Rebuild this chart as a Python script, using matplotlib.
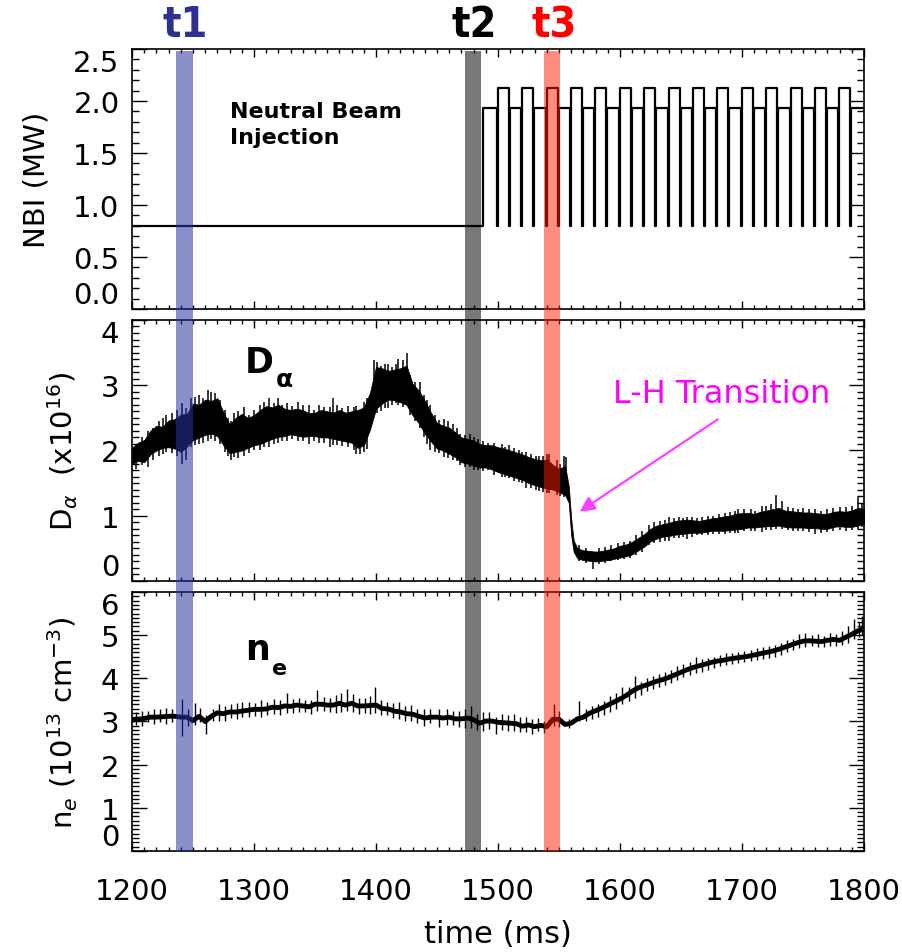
import matplotlib
matplotlib.use('Agg')
import matplotlib.pyplot as plt
import numpy as np
from matplotlib.patches import Rectangle
from matplotlib.transforms import blended_transform_factory

# ---- data ----
# NBI: flat 0.8 MW, then step on and modulated pulses
nbi_base = 0.80
nbi_mid = 1.93
nbi_high = 2.13
nbi_on = 1488
pulse_starts = [1499, 1519, 1539, 1559, 1579, 1599, 1619, 1639,
                1659, 1679, 1699, 1719, 1739, 1759, 1779]
pulse_width = 9.8
dip_width = 0.8

# D-alpha envelope (x1e16)
da_t = [1200, 1205, 1210, 1215, 1220, 1225, 1230, 1235, 1240, 1245,
        1250, 1255, 1260, 1265, 1270, 1275, 1280, 1285, 1290, 1295,
        1300, 1305, 1310, 1315, 1320, 1325, 1330, 1335, 1340, 1345,
        1350, 1355, 1360, 1365, 1370, 1375, 1380, 1385, 1390, 1395,
        1400, 1405, 1410, 1415, 1420, 1425, 1430, 1435, 1440, 1445,
        1450, 1455, 1460, 1465, 1470, 1475, 1480, 1485, 1490, 1495,
        1500, 1505, 1510, 1515, 1520, 1525, 1530, 1535, 1540, 1545,
        1550, 1555, 1558, 1560, 1562, 1565, 1570, 1575, 1580, 1585,
        1590, 1595, 1600, 1605, 1610, 1615, 1620, 1625, 1630, 1635,
        1640, 1645, 1650, 1655, 1660, 1665, 1670, 1675, 1680, 1685,
        1690, 1695, 1700, 1705, 1710, 1715, 1720, 1725, 1730, 1735,
        1740, 1745, 1750, 1755, 1760, 1765, 1770, 1775, 1780, 1785,
        1790, 1795, 1800]
da_hi = [2.04, 2.12, 2.16, 2.30, 2.38, 2.36, 2.46, 2.48, 2.55, 2.56,
         2.72, 2.70, 2.78, 2.76, 2.80, 2.58, 2.40, 2.50, 2.56, 2.50,
         2.54, 2.62, 2.68, 2.66, 2.70, 2.64, 2.62, 2.64, 2.62, 2.57,
         2.58, 2.62, 2.60, 2.58, 2.62, 2.58, 2.60, 2.62, 2.66, 2.88,
         3.28, 3.26, 3.22, 3.24, 3.26, 3.30, 3.02, 2.92, 2.76, 2.58,
         2.42, 2.38, 2.35, 2.28, 2.20, 2.18, 2.15, 2.10, 2.08, 2.08,
         2.05, 2.03, 2.00, 1.97, 1.94, 1.90, 1.87, 1.85, 1.86, 1.78,
         1.72, 1.76, 1.45, 0.95, 0.62, 0.50, 0.47, 0.46, 0.45, 0.46,
         0.48, 0.50, 0.54, 0.56, 0.60, 0.66, 0.72, 0.80, 0.85, 0.87,
         0.89, 0.92, 0.93, 0.94, 0.93, 0.92, 0.94, 0.96, 0.97, 0.99,
         1.00, 1.03, 1.04, 1.04, 1.03, 1.06, 1.08, 1.10, 1.12, 1.08,
         1.07, 1.06, 1.05, 1.05, 1.04, 1.03, 1.03, 1.06, 1.07, 1.06,
         1.08, 1.12, 1.10]
da_lo = [1.80, 1.84, 1.82, 1.94, 2.00, 2.04, 2.05, 2.03, 1.98, 2.06,
         2.16, 2.20, 2.24, 2.26, 2.22, 2.08, 1.96, 1.98, 2.00, 2.04,
         2.08, 2.10, 2.14, 2.18, 2.21, 2.22, 2.25, 2.23, 2.21, 2.22,
         2.22, 2.20, 2.20, 2.18, 2.16, 2.14, 2.12, 2.04, 2.08, 2.32,
         2.64, 2.72, 2.78, 2.77, 2.74, 2.70, 2.54, 2.42, 2.26, 2.14,
         2.03, 2.00, 1.95, 1.90, 1.82, 1.80, 1.77, 1.74, 1.74, 1.71,
         1.67, 1.64, 1.61, 1.58, 1.55, 1.50, 1.47, 1.44, 1.42, 1.40,
         1.36, 1.32, 1.20, 0.70, 0.45, 0.35, 0.32, 0.31, 0.30, 0.31,
         0.32, 0.34, 0.36, 0.38, 0.41, 0.47, 0.53, 0.61, 0.65, 0.68,
         0.69, 0.71, 0.72, 0.73, 0.74, 0.74, 0.75, 0.77, 0.77, 0.77,
         0.78, 0.79, 0.80, 0.82, 0.82, 0.83, 0.84, 0.84, 0.85, 0.83,
         0.82, 0.82, 0.82, 0.81, 0.81, 0.80, 0.80, 0.83, 0.84, 0.83,
         0.83, 0.85, 0.88]
# hair-like excursions of the D-alpha trace: time, bottom, top
da_spike_t = [1203, 1208, 1213, 1217, 1222, 1225, 1228, 1233, 1237, 1241,
              1244, 1248, 1252, 1255, 1258, 1262, 1265, 1268, 1272, 1276,
              1279, 1281, 1284, 1287, 1292, 1296, 1300, 1305, 1308, 1312,
              1316, 1320, 1323, 1327, 1331, 1336, 1340, 1345, 1349, 1353,
              1357, 1362, 1365, 1368, 1372, 1377, 1382, 1384, 1387, 1390,
              1393, 1398, 1401, 1404, 1407, 1410, 1413, 1416, 1418, 1422,
              1425, 1428, 1432, 1436, 1439, 1442, 1444, 1448, 1452, 1456,
              1459, 1463, 1466, 1469, 1473, 1477, 1480, 1484, 1488, 1492,
              1497, 1503, 1506, 1509, 1513, 1517, 1520, 1523, 1527, 1531,
              1534, 1537, 1540, 1542, 1548, 1551, 1554, 1556, 1566, 1572,
              1578, 1583, 1588, 1593, 1598, 1603, 1608, 1613, 1618, 1624,
              1628, 1633, 1637, 1640, 1644, 1648, 1652, 1655, 1659, 1663,
              1667, 1672, 1676, 1681, 1686, 1690, 1694, 1697, 1702, 1707,
              1711, 1716, 1720, 1724, 1728, 1733, 1738, 1742, 1746, 1750,
              1755, 1760, 1765, 1770, 1775, 1780, 1785, 1790, 1795, 1798]
da_spike_lo = [1.72, 1.78, 1.75, 1.85, 1.92, 1.95, 1.98, 1.96, 1.92, 1.80,
               1.85, 2.05, 2.08, 2.10, 2.12, 2.15, 2.18, 2.15, 2.10, 1.98,
               1.92, 1.85, 1.90, 1.88, 1.92, 1.96, 2.00, 2.00, 2.05, 2.05,
               2.10, 2.12, 2.15, 2.15, 2.18, 2.15, 2.14, 2.10, 2.15, 2.12,
               2.12, 2.05, 2.08, 2.08, 2.07, 2.05, 2.00, 1.95, 1.95, 1.98,
               2.02, 2.55, 2.58, 2.60, 2.65, 2.65, 2.70, 2.72, 2.70, 2.66,
               2.70, 2.55, 2.45, 2.35, 2.20, 2.10, 2.00, 1.98, 1.96, 1.90,
               1.88, 1.85, 1.84, 1.78, 1.75, 1.74, 1.70, 1.70, 1.68, 1.70,
               1.62, 1.60, 1.60, 1.58, 1.54, 1.52, 1.50, 1.42, 1.42, 1.40,
               1.38, 1.36, 1.35, 1.35, 1.32, 1.30, 1.28, 1.30, 0.30, 0.28,
               0.19, 0.26, 0.28, 0.30, 0.32, 0.33, 0.35, 0.40, 0.45, 0.55,
               0.58, 0.60, 0.62, 0.62, 0.66, 0.66, 0.68, 0.65, 0.68, 0.70,
               0.70, 0.70, 0.72, 0.72, 0.72, 0.74, 0.74, 0.74, 0.76, 0.77,
               0.76, 0.75, 0.78, 0.78, 0.80, 0.80, 0.78, 0.76, 0.76, 0.76,
               0.75, 0.72, 0.74, 0.75, 0.77, 0.78, 0.76, 0.78, 0.80, 0.82]
da_spike_hi = [2.10, 2.20, 2.30, 2.35, 2.45, 2.50, 2.55, 2.58, 2.62, 2.72,
               2.65, 2.80, 2.82, 2.85, 2.80, 2.92, 2.90, 2.88, 2.78, 2.62,
               2.50, 2.45, 2.58, 2.60, 2.66, 2.55, 2.62, 2.70, 2.75, 2.80,
               2.72, 2.80, 2.70, 2.72, 2.68, 2.74, 2.70, 2.70, 2.62, 2.70,
               2.66, 2.66, 2.80, 2.70, 2.65, 2.68, 2.66, 2.68, 2.55, 2.75,
               2.80, 3.38, 3.36, 3.30, 3.33, 3.32, 3.28, 3.32, 3.40, 3.38,
               3.49, 3.15, 3.05, 3.05, 2.85, 2.78, 2.70, 2.55, 2.46, 2.48,
               2.45, 2.40, 2.35, 2.25, 2.24, 2.25, 2.20, 2.18, 2.14, 2.12,
               2.12, 2.10, 2.06, 2.08, 2.04, 2.00, 1.98, 1.98, 1.94, 1.92,
               1.92, 1.92, 1.95, 1.94, 1.85, 1.80, 1.92, 1.90, 0.55, 0.50,
               0.45, 0.50, 0.52, 0.55, 0.58, 0.60, 0.62, 0.70, 0.76, 0.86,
               0.90, 0.92, 0.94, 0.98, 0.96, 0.98, 0.96, 0.98, 0.98, 0.96,
               0.98, 1.00, 1.00, 1.02, 1.04, 1.05, 1.08, 1.10, 1.10, 1.10,
               1.08, 1.15, 1.15, 1.18, 1.32, 1.22, 1.14, 1.12, 1.10, 1.12,
               1.10, 1.10, 1.08, 1.10, 1.12, 1.14, 1.14, 1.15, 1.28, 1.20]

# electron density (1e13 cm^-3), trace centre every 5 ms
ne_t = list(range(1200, 1805, 5))
ne_mid = [3.03, 3.05, 3.07, 3.10, 3.10, 3.11, 3.12, 3.12, 3.10, 3.10,
          3.02, 3.12, 3.00, 3.12, 3.20, 3.18, 3.22, 3.22, 3.24, 3.26,
          3.28, 3.28, 3.29, 3.33, 3.32, 3.36, 3.35, 3.38, 3.36, 3.34,
          3.40, 3.40, 3.38, 3.38, 3.42, 3.38, 3.42, 3.36, 3.36, 3.37,
          3.38, 3.30, 3.29, 3.24, 3.22, 3.18, 3.17, 3.12, 3.08, 3.10,
          3.10, 3.08, 3.10, 3.06, 3.06, 3.08, 3.04, 2.96, 3.01, 3.01,
          2.98, 2.97, 2.96, 2.95, 2.89, 2.92, 2.88, 2.91, 2.88, 3.05,
          3.05, 2.93, 2.96, 3.06, 3.10, 3.19, 3.25, 3.31, 3.38, 3.45,
          3.52, 3.60, 3.70, 3.78, 3.83, 3.88, 3.93, 3.97, 4.02, 4.08,
          4.14, 4.20, 4.25, 4.29, 4.33, 4.37, 4.40, 4.42, 4.45, 4.47,
          4.49, 4.51, 4.54, 4.57, 4.60, 4.63, 4.67, 4.72, 4.77, 4.82,
          4.86, 4.87, 4.86, 4.85, 4.88, 4.90, 4.88, 4.95, 5.02, 5.10,
          5.15]
ne_spike_t = [1203, 1208, 1213, 1218, 1223, 1228, 1233, 1241, 1246, 1252,
              1256, 1261, 1266, 1271, 1276, 1281, 1286, 1290, 1296, 1301,
              1306, 1311, 1316, 1321, 1327, 1332, 1337, 1342, 1347, 1352,
              1357, 1362, 1367, 1371, 1376, 1381, 1386, 1391, 1395, 1399,
              1404, 1409, 1414, 1419, 1424, 1429, 1434, 1439, 1444, 1452,
              1458, 1463, 1468, 1473, 1478, 1483, 1488, 1493, 1498, 1503,
              1508, 1513, 1518, 1523, 1528, 1533, 1538, 1546, 1550, 1558,
              1566, 1572, 1577, 1582, 1587, 1592, 1597, 1602, 1607, 1612,
              1617, 1622, 1627, 1632, 1637, 1642, 1647, 1652, 1657, 1662,
              1667, 1672, 1677, 1682, 1687, 1692, 1697, 1702, 1707, 1712,
              1717, 1722, 1727, 1732, 1737, 1742, 1747, 1752, 1757, 1762,
              1767, 1772, 1777, 1782, 1787, 1792, 1796, 1798]
ne_spike_lo = [2.92, 2.90, 2.98, 2.95, 2.98, 2.95, 2.98, 2.67, 2.90, 2.92,
               2.98, 2.70, 3.00, 3.02, 3.02, 3.08, 3.05, 3.10, 3.10, 3.12,
               3.10, 3.15, 3.18, 3.15, 3.20, 3.20, 3.22, 3.22, 3.18, 3.25,
               3.24, 3.22, 3.20, 3.22, 3.25, 3.22, 3.18, 3.20, 3.18, 3.20,
               3.14, 3.14, 3.08, 3.05, 3.02, 3.00, 2.96, 2.90, 2.96, 2.88,
               2.92, 2.92, 2.88, 2.86, 2.85, 2.80, 2.78, 2.82, 2.72, 2.80,
               2.78, 2.78, 2.75, 2.76, 2.72, 2.78, 2.74, 2.90, 2.88, 2.84,
               3.00, 3.00, 3.05, 3.10, 3.15, 3.22, 3.30, 3.40, 3.48, 3.55,
               3.62, 3.70, 3.75, 3.80, 3.85, 3.90, 3.95, 4.02, 4.08, 4.12,
               4.15, 4.20, 4.25, 4.28, 4.30, 4.32, 4.35, 4.38, 4.40, 4.42,
               4.45, 4.48, 4.50, 4.55, 4.60, 4.65, 4.70, 4.72, 4.75, 4.72,
               4.72, 4.75, 4.75, 4.78, 4.82, 4.90, 4.95, 5.00]
ne_spike_hi = [3.22, 3.25, 3.25, 3.30, 3.28, 3.32, 3.30, 3.52, 3.28, 3.42,
               3.32, 3.15, 3.30, 3.40, 3.35, 3.40, 3.42, 3.45, 3.45, 3.42,
               3.50, 3.45, 3.52, 3.50, 3.67, 3.52, 3.55, 3.50, 3.50, 3.72,
               3.56, 3.55, 3.62, 3.66, 3.75, 3.64, 3.55, 3.55, 3.60, 3.79,
               3.50, 3.45, 3.42, 3.45, 3.35, 3.38, 3.30, 3.30, 3.28, 3.30,
               3.30, 3.25, 3.25, 3.28, 3.35, 3.18, 3.22, 3.22, 3.10, 3.18,
               3.15, 3.18, 3.10, 3.10, 3.05, 3.08, 3.02, 3.40, 3.25, 3.05,
               3.48, 3.30, 3.35, 3.40, 3.48, 3.58, 3.65, 3.80, 3.80, 4.05,
               3.92, 4.00, 4.05, 4.10, 4.15, 4.20, 4.28, 4.32, 4.38, 4.50,
               4.45, 4.48, 4.50, 4.55, 4.58, 4.58, 4.62, 4.64, 4.66, 4.70,
               4.72, 4.75, 4.78, 4.82, 4.88, 4.92, 5.02, 5.05, 5.00, 5.02,
               4.98, 5.05, 5.02, 5.10, 5.20, 5.37, 5.30, 5.45]

# time slices
slice_names = ['t1', 't2', 't3']
slice_start = [1236.0, 1472.6, 1538.1]
slice_end = [1249.7, 1485.7, 1551.2]
slice_colors = ['#2b33a0', '#000000', '#ff1a00']
slice_alpha = [0.55, 0.53, 0.5]
slice_text_colors = ['#2e3192', '#000000', '#ff0000']

plt.rcParams['font.family'] = ['DejaVu Sans']
plt.rcParams['mathtext.fontset'] = 'dejavusans'

fig = plt.figure(figsize=(9.03, 9.53), dpi=100)
left, width = 0.1462, 0.8106
ax1 = fig.add_axes([left, 0.6747, width, 0.2728])
ax2 = fig.add_axes([left, 0.3893, width, 0.2739])
ax3 = fig.add_axes([left, 0.1060, width, 0.2718])
axes = [ax1, ax2, ax3]

# NBI trace
nbi_t = [1200, nbi_on]
nbi_v = [nbi_base, nbi_mid]
for s in pulse_starts:
    nbi_t += [s, s + dip_width, s + pulse_width, s + pulse_width + dip_width]
    nbi_v += [nbi_base, nbi_high, nbi_base, nbi_mid]
nbi_t.append(1800)
nbi_v.append(nbi_mid)
ax1.step(nbi_t, nbi_v, where='post', color='k', lw=1.6)

# D-alpha trace
ax2.fill_between(da_t, da_lo, da_hi, color='k', lw=0.6)
ax2.vlines(da_spike_t, da_spike_lo, da_spike_hi, color='k', lw=1.1)

# density trace
ax3.plot(ne_t, ne_mid, color='k', lw=3.5)
ax3.vlines(ne_spike_t, ne_spike_lo, ne_spike_hi, color='k', lw=1.0)

ylims = [(0, 2.5), (0, 4), (0, 6)]
ymaj = [0.5, 1, 1]
for ax, yl, step in zip(axes, ylims, ymaj):
    ax.set_xlim(1200, 1800)
    ax.set_ylim(*yl)
    ax.set_xticks(np.arange(1200, 1801, 100))
    ax.set_xticks(np.arange(1200, 1801, 10), minor=True)
    ax.set_yticks(np.arange(yl[0], yl[1] + 0.01, step))
    ax.set_yticks(np.arange(yl[0], yl[1] + 0.01, 0.1), minor=True)
    ax.set_ylim(*yl)
    ax.tick_params(which='both', direction='in', top=True, right=True,
                   labelsize=21, width=1.0)
    ax.tick_params(axis='y', which='major', length=11, pad=9)
    ax.tick_params(axis='y', which='minor', length=5)
    ax.tick_params(axis='x', which='major', length=6, pad=19)
    ax.tick_params(axis='x', which='minor', length=3)
    for sp in ax.spines.values():
        sp.set_linewidth(1.2)
    if ax is not ax3:
        ax.tick_params(axis='x', labelbottom=False)

ax1.set_yticklabels(['0.0', '0.5', '1.0', '1.5', '2.0', '2.5'])
for ax in axes:
    ticks = ax.yaxis.get_major_ticks()
    ticks[0].label1.set_va('bottom')
    ticks[-1].label1.set_va('top')

ax1.set_ylabel('NBI (MW)', fontsize=21)
ax1.yaxis.set_label_coords(-0.112, 0.5)
ax2.set_ylabel(r'D$_\alpha$  (x10$^{16}$)', fontsize=21)
ax2.yaxis.set_label_coords(-0.071, 0.5)
ax3.set_ylabel(r'n$_e$ (10$^{13}$ cm$^{-3}$)', fontsize=21)
ax3.yaxis.set_label_coords(-0.071, 0.5)
ax3.set_xlabel('time (ms)', fontsize=22)
ax3.xaxis.set_label_coords(0.5, -0.262)

# annotations
ax1.text(1280, 2.0, 'Neutral Beam\nInjection', fontsize=16, fontweight='bold',
         ha='left', va='top', linespacing=1.35)
d_txt = ax2.text(1292.5, 3.2, 'D', fontsize=25, fontweight='bold',
                 ha='left', va='baseline')
ax2.annotate('α', xy=(1, 0), xycoords=d_txt, xytext=(1, -5),
             textcoords='offset points', fontsize=18, fontweight='bold',
             va='baseline')
n_txt = ax3.text(1293, 4.45, 'n', fontsize=25, fontweight='bold',
                 ha='left', va='baseline')
ax3.annotate('e', xy=(1, 0), xycoords=n_txt, xytext=(1, -6),
             textcoords='offset points', fontsize=16, fontweight='bold',
             va='baseline')
ax2.text(1594.5, 2.74, 'L-H Transition', fontsize=23, color='#ff00ff',
         ha='left', va='baseline')
ax2.annotate('', xy=(1565, 1.04), xytext=(1682, 2.50),
             arrowprops=dict(arrowstyle='-|>,head_length=0.9,head_width=0.45',
                             color='#ff40ff', lw=1.6))

# time slice bands across all panels
y_top = ax1.get_position().y1 - 0.002
y_bot = ax3.get_position().y0
trans = blended_transform_factory(ax3.transData, fig.transFigure)
for name, x0, x1, c, a, tc in zip(slice_names, slice_start, slice_end,
                                 slice_colors, slice_alpha, slice_text_colors):
    fig.add_artist(Rectangle((x0, y_bot), x1 - x0, y_top - y_bot,
                             transform=trans, facecolor=c, alpha=a,
                             edgecolor='none', zorder=5))
    fig.text((x0 + x1) / 2 + 1, ax1.get_position().y1 + 0.004, name,
             transform=trans, ha='center', va='bottom', fontsize=31,
             fontweight='bold', fontstretch='condensed',
             family='DejaVu Sans', color=tc)

fig.savefig('out.png', dpi=100)
